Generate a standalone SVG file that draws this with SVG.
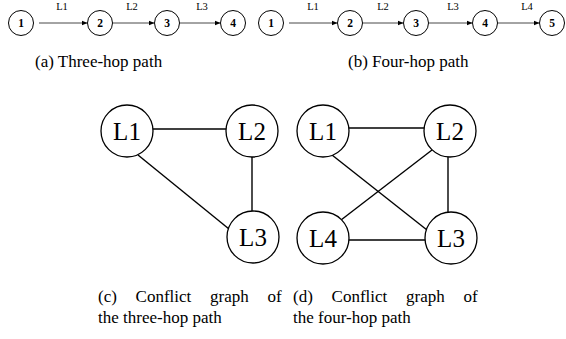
<svg xmlns="http://www.w3.org/2000/svg" width="566" height="339" viewBox="0 0 566 339" font-family="'Liberation Serif', 'Times New Roman', Times, 'DejaVu Serif', serif">
<style>
text{font-family:"Liberation Serif","Times New Roman",Times,"DejaVu Serif",serif;fill:#000}
.n{fill:#fff;stroke:#000;stroke-width:1}
.big{fill:#fff;stroke:#000;stroke-width:1.3}
.num{font-size:11.5px;font-weight:bold;text-anchor:middle}
.lab{font-size:10.5px;text-anchor:middle}
.bl{font-size:25px;text-anchor:middle}
.cap{font-size:17px}
.arr{stroke:#333;stroke-width:0.9;fill:none;marker-end:url(#ah)}
.e{stroke:#000;stroke-width:1.4;fill:none}
</style>
<defs>
<marker id="ah" viewBox="0 0 10 10" refX="10" refY="5" markerWidth="6" markerHeight="6" markerUnits="userSpaceOnUse" orient="auto">
<path d="M0,1 L10,5 L0,9 z" fill="#000"/>
</marker>
</defs>
<g id="connectors">
<line class="arr" x1="39" y1="23" x2="87.5" y2="23"/>
<line class="arr" x1="113" y1="23" x2="154.5" y2="23"/>
<line class="arr" x1="180" y1="23" x2="220.5" y2="23"/>
<line class="arr" x1="289" y1="23" x2="337.5" y2="23"/>
<line class="arr" x1="363" y1="23" x2="403.5" y2="23"/>
<line class="arr" x1="429" y1="23" x2="472.5" y2="23"/>
<line class="arr" x1="498" y1="23" x2="539.5" y2="23"/>
<line class="e" x1="153" y1="129" x2="226" y2="129"/>
<line class="e" x1="252" y1="157" x2="252" y2="211"/>
<line class="e" x1="138" y1="155" x2="229" y2="229"/>
<line class="e" x1="349" y1="128" x2="424" y2="128"/>
<line class="e" x1="448" y1="157" x2="448" y2="212"/>
<line class="e" x1="349" y1="240" x2="425" y2="240"/>
<line class="e" x1="332" y1="155" x2="427" y2="230"/>
<line class="e" x1="432" y1="150" x2="341" y2="220"/>
</g>
<g id="link-labels">
<text class="lab" x="62" y="10">L1</text>
<text class="lab" x="132" y="10">L2</text>
<text class="lab" x="202" y="10">L3</text>
<text class="lab" x="313" y="10">L1</text>
<text class="lab" x="383" y="10">L2</text>
<text class="lab" x="453" y="10">L3</text>
<text class="lab" x="527" y="10">L4</text>
</g>
<g id="a1"><circle class="n" cx="21" cy="23" r="12.5"/><text class="num" x="21" y="27">1</text></g>
<g id="a2"><circle class="n" cx="100" cy="23" r="12.5"/><text class="num" x="100" y="27">2</text></g>
<g id="a3"><circle class="n" cx="167" cy="23" r="12.5"/><text class="num" x="167" y="27">3</text></g>
<g id="a4"><circle class="n" cx="233" cy="23" r="12.5"/><text class="num" x="233" y="27">4</text></g>
<g id="b1"><circle class="n" cx="271" cy="23" r="12.5"/><text class="num" x="271" y="27">1</text></g>
<g id="b2"><circle class="n" cx="350" cy="23" r="12.5"/><text class="num" x="350" y="27">2</text></g>
<g id="b3"><circle class="n" cx="416" cy="23" r="12.5"/><text class="num" x="416" y="27">3</text></g>
<g id="b4"><circle class="n" cx="485" cy="23" r="12.5"/><text class="num" x="485" y="27">4</text></g>
<g id="b5"><circle class="n" cx="552" cy="23" r="12.5"/><text class="num" x="552" y="27">5</text></g>
<g id="c-L1"><circle class="big" cx="127" cy="131" r="26"/><text class="bl" x="127" y="139.5">L1</text></g>
<g id="c-L2"><circle class="big" cx="252" cy="131" r="26"/><text class="bl" x="252" y="139.5">L2</text></g>
<g id="c-L3"><circle class="big" cx="253" cy="237" r="26"/><text class="bl" x="253" y="245.5">L3</text></g>
<g id="d-L1"><circle class="big" cx="323" cy="131" r="26"/><text class="bl" x="323" y="139.5">L1</text></g>
<g id="d-L2"><circle class="big" cx="450" cy="131" r="26"/><text class="bl" x="450" y="139.5">L2</text></g>
<g id="d-L3"><circle class="big" cx="451" cy="238" r="26"/><text class="bl" x="451" y="246.5">L3</text></g>
<g id="d-L4"><circle class="big" cx="323" cy="238" r="26"/><text class="bl" x="323" y="246.5">L4</text></g>
<g id="captions">
<text class="cap" x="35" y="67">(a) Three-hop path</text>
<text class="cap" x="348" y="67">(b) Four-hop path</text>
<text class="cap" x="98" y="302" word-spacing="14.5">(c) Conflict graph of</text>
<text class="cap" x="98" y="323">the three-hop path</text>
<text class="cap" x="293" y="302" word-spacing="14.5">(d) Conflict graph of</text>
<text class="cap" x="293" y="323">the four-hop path</text>
</g>
</svg>
